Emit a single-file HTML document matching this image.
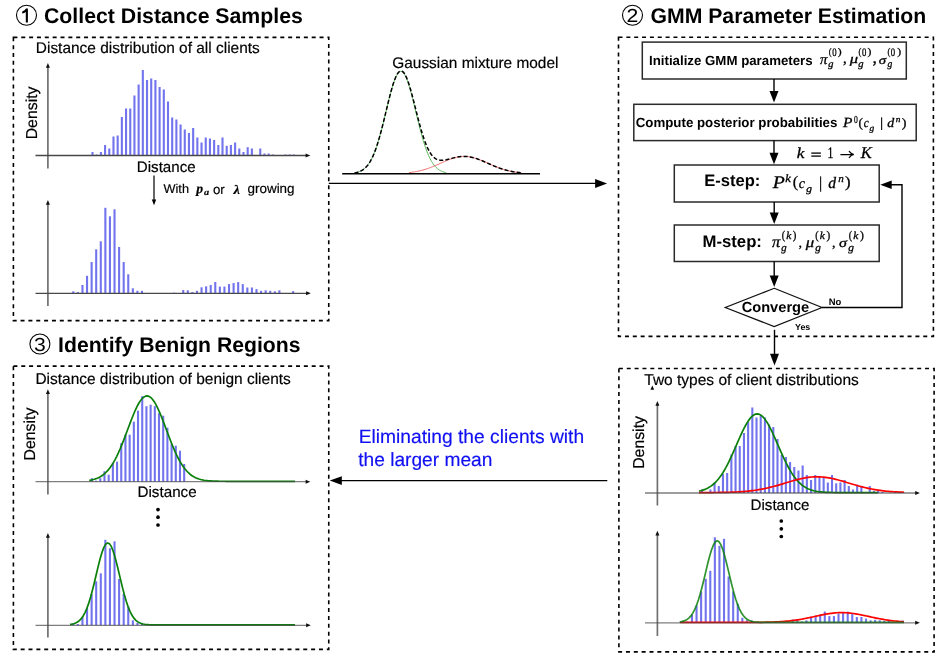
<!DOCTYPE html>
<html><head><meta charset="utf-8"><title>GMM pipeline</title>
<style>html,body{margin:0;padding:0;background:#fff;width:942px;height:660px;overflow:hidden}svg{display:block;filter:blur(0.3px)}</style>
</head><body>
<svg width="942" height="660" viewBox="0 0 942 660" text-rendering="geometricPrecision">
<rect width="942" height="660" fill="#fff"/>
<circle cx="26.5" cy="15.3" r="10" fill="none" stroke="#000" stroke-width="1.1"/>
<path transform="translate(0.00,0.10)" d="M22.2,11.3 Q25,10.4 26.0,8.3 L27.9,8.3 L27.9,22.4 L25.8,22.4 L25.8,11.9 Q24.4,13 22.2,13.4 Z" fill="#000"/>
<text x="44.00" y="23.00" font-family="Liberation Sans" font-size="21.272" font-weight="bold" font-style="normal" fill="#000" text-anchor="start" >Collect Distance Samples</text>
<circle cx="632.5" cy="15.3" r="10" fill="none" stroke="#000" stroke-width="1.1"/>
<text transform="translate(632.50,22.20) scale(1.12,1)" font-family="Liberation Sans" font-size="18.9" text-anchor="middle" fill="#000">2</text>
<text x="650.50" y="22.90" font-family="Liberation Sans" font-size="21.21" font-weight="bold" font-style="normal" fill="#000" text-anchor="start" >GMM Parameter Estimation</text>
<circle cx="39.9" cy="344" r="10" fill="none" stroke="#000" stroke-width="1.1"/>
<text transform="translate(39.90,350.90) scale(1.12,1)" font-family="Liberation Sans" font-size="18.9" text-anchor="middle" fill="#000">3</text>
<text x="58.10" y="351.80" font-family="Liberation Sans" font-size="21.18" font-weight="bold" font-style="normal" fill="#000" text-anchor="start" >Identify Benign Regions</text>
<rect x="13.4" y="37.4" width="315.35" height="283.20" fill="none" stroke="#000" stroke-width="1.6" stroke-dasharray="4 3.85"/>
<rect x="618.5" y="37.3" width="314.90" height="299.10" fill="none" stroke="#000" stroke-width="1.6" stroke-dasharray="4 3.85"/>
<rect x="13.4" y="366.1" width="315.35" height="283.30" fill="none" stroke="#000" stroke-width="1.6" stroke-dasharray="4 3.85"/>
<rect x="618.9" y="368.5" width="315.20" height="283.40" fill="none" stroke="#000" stroke-width="1.6" stroke-dasharray="4 3.85"/>
<text x="35.80" y="52.90" font-family="Liberation Sans" font-size="15.441" font-weight="normal" font-style="normal" fill="#000" text-anchor="start" stroke="#000" stroke-width="0.18" >Distance distribution of all clients</text>
<rect x="91.45" y="152.00" width="2.1" height="3.50" fill="#7274ee"/>
<rect x="95.64" y="154.50" width="2.1" height="1.00" fill="#7274ee"/>
<rect x="99.84" y="152.00" width="2.1" height="3.50" fill="#7274ee"/>
<rect x="104.03" y="145.00" width="2.1" height="10.50" fill="#7274ee"/>
<rect x="108.23" y="148.50" width="2.1" height="7.00" fill="#7274ee"/>
<rect x="112.42" y="136.50" width="2.1" height="19.00" fill="#7274ee"/>
<rect x="116.61" y="135.50" width="2.1" height="20.00" fill="#7274ee"/>
<rect x="120.81" y="117.00" width="2.1" height="38.50" fill="#7274ee"/>
<rect x="125.00" y="108.50" width="2.1" height="47.00" fill="#7274ee"/>
<rect x="129.20" y="108.50" width="2.1" height="47.00" fill="#7274ee"/>
<rect x="133.39" y="95.50" width="2.1" height="60.00" fill="#7274ee"/>
<rect x="137.58" y="84.50" width="2.1" height="71.00" fill="#7274ee"/>
<rect x="141.78" y="70.00" width="2.1" height="85.50" fill="#7274ee"/>
<rect x="145.97" y="80.00" width="2.1" height="75.50" fill="#7274ee"/>
<rect x="150.17" y="78.50" width="2.1" height="77.00" fill="#7274ee"/>
<rect x="154.36" y="80.00" width="2.1" height="75.50" fill="#7274ee"/>
<rect x="158.55" y="87.00" width="2.1" height="68.50" fill="#7274ee"/>
<rect x="162.75" y="89.50" width="2.1" height="66.00" fill="#7274ee"/>
<rect x="166.94" y="101.50" width="2.1" height="54.00" fill="#7274ee"/>
<rect x="171.14" y="117.50" width="2.1" height="38.00" fill="#7274ee"/>
<rect x="175.33" y="119.50" width="2.1" height="36.00" fill="#7274ee"/>
<rect x="179.52" y="124.50" width="2.1" height="31.00" fill="#7274ee"/>
<rect x="183.72" y="129.50" width="2.1" height="26.00" fill="#7274ee"/>
<rect x="187.91" y="133.00" width="2.1" height="22.50" fill="#7274ee"/>
<rect x="192.11" y="128.00" width="2.1" height="27.50" fill="#7274ee"/>
<rect x="196.30" y="137.50" width="2.1" height="18.00" fill="#7274ee"/>
<rect x="200.49" y="142.50" width="2.1" height="13.00" fill="#7274ee"/>
<rect x="204.69" y="137.50" width="2.1" height="18.00" fill="#7274ee"/>
<rect x="208.88" y="138.50" width="2.1" height="17.00" fill="#7274ee"/>
<rect x="213.08" y="140.00" width="2.1" height="15.50" fill="#7274ee"/>
<rect x="217.27" y="145.00" width="2.1" height="10.50" fill="#7274ee"/>
<rect x="221.46" y="137.50" width="2.1" height="18.00" fill="#7274ee"/>
<rect x="225.66" y="145.80" width="2.1" height="9.70" fill="#7274ee"/>
<rect x="229.85" y="145.00" width="2.1" height="10.50" fill="#7274ee"/>
<rect x="234.05" y="142.50" width="2.1" height="13.00" fill="#7274ee"/>
<rect x="238.24" y="148.50" width="2.1" height="7.00" fill="#7274ee"/>
<rect x="242.43" y="152.00" width="2.1" height="3.50" fill="#7274ee"/>
<rect x="246.63" y="147.20" width="2.1" height="8.30" fill="#7274ee"/>
<rect x="250.82" y="148.50" width="2.1" height="7.00" fill="#7274ee"/>
<rect x="259.21" y="148.50" width="2.1" height="7.00" fill="#7274ee"/>
<rect x="263.40" y="153.50" width="2.1" height="2.00" fill="#7274ee"/>
<rect x="267.60" y="153.50" width="2.1" height="2.00" fill="#7274ee"/>
<rect x="271.79" y="154.50" width="2.1" height="1.00" fill="#7274ee"/>
<rect x="284.37" y="154.50" width="2.1" height="1.00" fill="#7274ee"/>
<rect x="288.57" y="154.50" width="2.1" height="1.00" fill="#7274ee"/>
<rect x="292.76" y="154.50" width="2.1" height="1.00" fill="#7274ee"/>
<line x1="47.90" y1="66.10" x2="47.90" y2="168.50" stroke="#707070" stroke-width="1.7" />
<polygon points="47.90,63.10 45.90,67.80 49.90,67.80" fill="#111"/>
<line x1="35.50" y1="155.50" x2="307.30" y2="155.50" stroke="#474747" stroke-width="1.3" stroke-opacity="1.0"/>
<polygon points="310.30,155.50 305.60,153.50 305.60,157.50" fill="#111"/>
<text x="36.90" y="112.90" font-family="Liberation Sans" font-size="15.85" font-weight="normal" font-style="normal" fill="#000" text-anchor="middle" stroke="#000" stroke-width="0.18" transform="rotate(-90 36.9 112.9)">Density</text>
<text x="136.80" y="172.40" font-family="Liberation Sans" font-size="15.137" font-weight="normal" font-style="normal" fill="#000" text-anchor="start" stroke="#000" stroke-width="0.18" >Distance</text>
<line x1="154.00" y1="175.50" x2="154.00" y2="200.50" stroke="#000" stroke-width="1.2" />
<polygon points="154.00,205.30 151.80,199.50 156.20,199.50" fill="#000"/>
<text x="163.50" y="193.20" font-family="Liberation Sans" font-size="12.75" font-weight="normal" font-style="normal" fill="#000" text-anchor="start" stroke="#000" stroke-width="0.18" >With</text>
<text x="212.90" y="193.50" font-family="Liberation Sans" font-size="13.273" font-weight="normal" font-style="normal" fill="#000" text-anchor="start" stroke="#000" stroke-width="0.18" >or</text>
<text x="247.50" y="193.30" font-family="Liberation Sans" font-size="13.449" font-weight="normal" font-style="normal" fill="#000" text-anchor="start" stroke="#000" stroke-width="0.18" >growing</text>
<rect x="72.25" y="291.30" width="2.1" height="2.00" fill="#7274ee"/>
<rect x="76.83" y="292.00" width="2.1" height="1.30" fill="#7274ee"/>
<rect x="81.41" y="285.00" width="2.1" height="8.30" fill="#7274ee"/>
<rect x="85.99" y="275.80" width="2.1" height="17.50" fill="#7274ee"/>
<rect x="90.57" y="262.00" width="2.1" height="31.30" fill="#7274ee"/>
<rect x="95.15" y="249.30" width="2.1" height="44.00" fill="#7274ee"/>
<rect x="99.73" y="241.30" width="2.1" height="52.00" fill="#7274ee"/>
<rect x="104.31" y="207.80" width="2.1" height="85.50" fill="#7274ee"/>
<rect x="108.89" y="216.30" width="2.1" height="77.00" fill="#7274ee"/>
<rect x="113.47" y="209.30" width="2.1" height="84.00" fill="#7274ee"/>
<rect x="118.05" y="247.00" width="2.1" height="46.30" fill="#7274ee"/>
<rect x="122.63" y="262.00" width="2.1" height="31.30" fill="#7274ee"/>
<rect x="127.21" y="274.30" width="2.1" height="19.00" fill="#7274ee"/>
<rect x="131.79" y="288.30" width="2.1" height="5.00" fill="#7274ee"/>
<rect x="136.37" y="290.80" width="2.1" height="2.50" fill="#7274ee"/>
<rect x="140.95" y="290.80" width="2.1" height="2.50" fill="#7274ee"/>
<rect x="173.01" y="292.70" width="2.1" height="0.60" fill="#7274ee"/>
<rect x="182.17" y="290.00" width="2.1" height="3.30" fill="#7274ee"/>
<rect x="186.75" y="290.30" width="2.1" height="3.00" fill="#7274ee"/>
<rect x="191.33" y="292.00" width="2.1" height="1.30" fill="#7274ee"/>
<rect x="195.91" y="290.80" width="2.1" height="2.50" fill="#7274ee"/>
<rect x="200.49" y="287.30" width="2.1" height="6.00" fill="#7274ee"/>
<rect x="205.07" y="286.30" width="2.1" height="7.00" fill="#7274ee"/>
<rect x="209.65" y="285.00" width="2.1" height="8.30" fill="#7274ee"/>
<rect x="214.23" y="282.00" width="2.1" height="11.30" fill="#7274ee"/>
<rect x="218.81" y="286.60" width="2.1" height="6.70" fill="#7274ee"/>
<rect x="223.39" y="286.60" width="2.1" height="6.70" fill="#7274ee"/>
<rect x="227.97" y="284.10" width="2.1" height="9.20" fill="#7274ee"/>
<rect x="232.55" y="283.00" width="2.1" height="10.30" fill="#7274ee"/>
<rect x="237.13" y="282.10" width="2.1" height="11.20" fill="#7274ee"/>
<rect x="241.71" y="284.10" width="2.1" height="9.20" fill="#7274ee"/>
<rect x="246.29" y="287.50" width="2.1" height="5.80" fill="#7274ee"/>
<rect x="250.87" y="287.50" width="2.1" height="5.80" fill="#7274ee"/>
<rect x="255.45" y="289.10" width="2.1" height="4.20" fill="#7274ee"/>
<rect x="260.03" y="290.80" width="2.1" height="2.50" fill="#7274ee"/>
<rect x="264.61" y="290.30" width="2.1" height="3.00" fill="#7274ee"/>
<rect x="269.19" y="290.80" width="2.1" height="2.50" fill="#7274ee"/>
<rect x="273.77" y="291.30" width="2.1" height="2.00" fill="#7274ee"/>
<rect x="278.35" y="290.30" width="2.1" height="3.00" fill="#7274ee"/>
<rect x="292.09" y="291.10" width="2.1" height="2.20" fill="#7274ee"/>
<line x1="47.90" y1="203.00" x2="47.90" y2="306.00" stroke="#707070" stroke-width="1.7" />
<polygon points="47.90,200.00 45.90,204.70 49.90,204.70" fill="#111"/>
<line x1="35.50" y1="293.30" x2="307.80" y2="293.30" stroke="#474747" stroke-width="1.3" stroke-opacity="1.0"/>
<polygon points="310.80,293.30 306.10,291.30 306.10,295.30" fill="#111"/>
<text x="35.40" y="384.00" font-family="Liberation Sans" font-size="15.482" font-weight="normal" font-style="normal" fill="#000" text-anchor="start" stroke="#000" stroke-width="0.18" >Distance distribution of benign clients</text>
<rect x="90.85" y="478.20" width="2.1" height="3.50" fill="#7274ee"/>
<rect x="95.04" y="480.70" width="2.1" height="1.00" fill="#7274ee"/>
<rect x="99.24" y="478.20" width="2.1" height="3.50" fill="#7274ee"/>
<rect x="103.43" y="471.20" width="2.1" height="10.50" fill="#7274ee"/>
<rect x="107.63" y="474.70" width="2.1" height="7.00" fill="#7274ee"/>
<rect x="111.82" y="462.70" width="2.1" height="19.00" fill="#7274ee"/>
<rect x="116.01" y="461.70" width="2.1" height="20.00" fill="#7274ee"/>
<rect x="120.21" y="443.20" width="2.1" height="38.50" fill="#7274ee"/>
<rect x="124.40" y="434.70" width="2.1" height="47.00" fill="#7274ee"/>
<rect x="128.60" y="434.70" width="2.1" height="47.00" fill="#7274ee"/>
<rect x="132.79" y="421.70" width="2.1" height="60.00" fill="#7274ee"/>
<rect x="136.98" y="410.70" width="2.1" height="71.00" fill="#7274ee"/>
<rect x="141.18" y="396.20" width="2.1" height="85.50" fill="#7274ee"/>
<rect x="145.37" y="406.20" width="2.1" height="75.50" fill="#7274ee"/>
<rect x="149.57" y="404.70" width="2.1" height="77.00" fill="#7274ee"/>
<rect x="153.76" y="406.20" width="2.1" height="75.50" fill="#7274ee"/>
<rect x="157.95" y="413.20" width="2.1" height="68.50" fill="#7274ee"/>
<rect x="162.15" y="415.70" width="2.1" height="66.00" fill="#7274ee"/>
<rect x="166.34" y="427.70" width="2.1" height="54.00" fill="#7274ee"/>
<rect x="170.54" y="443.70" width="2.1" height="38.00" fill="#7274ee"/>
<rect x="174.73" y="445.70" width="2.1" height="36.00" fill="#7274ee"/>
<rect x="178.92" y="450.70" width="2.1" height="31.00" fill="#7274ee"/>
<rect x="183.12" y="464.00" width="2.1" height="17.70" fill="#7274ee"/>
<path d="M89.20,480.34 L90.92,480.05 L92.63,479.69 L94.34,479.23 L96.06,478.68 L97.78,478.00 L99.49,477.17 L101.20,476.18 L102.92,475.01 L104.64,473.62 L106.35,472.01 L108.06,470.14 L109.78,468.00 L111.50,465.58 L113.21,462.86 L114.93,459.84 L116.64,456.52 L118.36,452.91 L120.07,449.04 L121.78,444.92 L123.50,440.61 L125.22,436.14 L126.93,431.57 L128.65,426.97 L130.36,422.41 L132.07,417.97 L133.79,413.73 L135.50,409.78 L137.22,406.19 L138.94,403.04 L140.65,400.40 L142.37,398.33 L144.08,396.87 L145.80,396.07 L147.51,395.93 L149.22,396.47 L150.94,397.66 L152.66,399.49 L154.37,401.90 L156.09,404.86 L157.80,408.28 L159.52,412.09 L161.23,416.23 L162.94,420.59 L164.66,425.11 L166.38,429.70 L168.09,434.29 L169.81,438.81 L171.52,443.20 L173.24,447.40 L174.95,451.37 L176.67,455.09 L178.38,458.53 L180.10,461.67 L181.81,464.51 L183.53,467.05 L185.24,469.31 L186.96,471.28 L188.67,473.00 L190.38,474.47 L192.10,475.73 L193.81,476.79 L195.53,477.68 L197.25,478.42 L198.96,479.02 L200.68,479.51 L202.39,479.91 L204.11,480.23 L205.82,480.48 L207.54,480.68 L209.25,480.83 L210.97,480.95 L212.68,481.04 L214.40,481.11 L216.11,481.16 L217.82,481.20 L219.54,481.23 L221.25,481.25 L222.97,481.26 L224.69,481.27 L226.40,481.28 L228.12,481.29 L229.83,481.29 L231.55,481.29 L233.26,481.30 L234.98,481.30 L236.69,481.30 L238.41,481.30 L240.12,481.30 L241.84,481.30 L243.55,481.30 L245.26,481.30 L246.98,481.30 L248.69,481.30 L250.41,481.30 L252.12,481.30 L253.84,481.30 L255.56,481.30 L257.27,481.30 L258.99,481.30 L260.70,481.30 L262.42,481.30 L264.13,481.30 L265.85,481.30 L267.56,481.30 L269.27,481.30 L270.99,481.30 L272.71,481.30 L274.42,481.30 L276.13,481.30 L277.85,481.30 L279.57,481.30 L281.28,481.30 L283.00,481.30 L284.71,481.30 L286.43,481.30 L288.14,481.30 L289.86,481.30 L291.57,481.30 L293.29,481.30 L295.00,481.30" fill="none" stroke="#0a800a" stroke-width="1.7"/>
<line x1="47.90" y1="392.20" x2="47.90" y2="494.50" stroke="#707070" stroke-width="1.7" />
<polygon points="47.90,389.20 45.90,393.90 49.90,393.90" fill="#111"/>
<line x1="35.50" y1="481.70" x2="307.30" y2="481.70" stroke="#474747" stroke-width="1.3" stroke-opacity="0.7"/>
<polygon points="310.30,481.70 305.60,479.70 305.60,483.70" fill="#111"/>
<text x="35.10" y="434.10" font-family="Liberation Sans" font-size="15.85" font-weight="normal" font-style="normal" fill="#000" text-anchor="middle" stroke="#000" stroke-width="0.18" transform="rotate(-90 35.1 434.1)">Density</text>
<text x="137.50" y="497.40" font-family="Liberation Sans" font-size="15.215" font-weight="normal" font-style="normal" fill="#000" text-anchor="start" stroke="#000" stroke-width="0.18" >Distance</text>
<circle cx="158" cy="509.6" r="1.85" fill="#000"/>
<circle cx="158" cy="517.2" r="1.85" fill="#000"/>
<circle cx="158" cy="525" r="1.85" fill="#000"/>
<rect x="72.25" y="623.30" width="2.1" height="2.00" fill="#7274ee"/>
<rect x="76.83" y="624.00" width="2.1" height="1.30" fill="#7274ee"/>
<rect x="81.41" y="617.00" width="2.1" height="8.30" fill="#7274ee"/>
<rect x="85.99" y="607.80" width="2.1" height="17.50" fill="#7274ee"/>
<rect x="90.57" y="594.00" width="2.1" height="31.30" fill="#7274ee"/>
<rect x="95.15" y="581.30" width="2.1" height="44.00" fill="#7274ee"/>
<rect x="99.73" y="573.30" width="2.1" height="52.00" fill="#7274ee"/>
<rect x="104.31" y="539.80" width="2.1" height="85.50" fill="#7274ee"/>
<rect x="108.89" y="548.30" width="2.1" height="77.00" fill="#7274ee"/>
<rect x="113.47" y="541.30" width="2.1" height="84.00" fill="#7274ee"/>
<rect x="118.05" y="579.00" width="2.1" height="46.30" fill="#7274ee"/>
<rect x="122.63" y="594.00" width="2.1" height="31.30" fill="#7274ee"/>
<rect x="127.21" y="606.30" width="2.1" height="19.00" fill="#7274ee"/>
<rect x="131.79" y="620.30" width="2.1" height="5.00" fill="#7274ee"/>
<rect x="136.37" y="622.80" width="2.1" height="2.50" fill="#7274ee"/>
<rect x="140.95" y="622.80" width="2.1" height="2.50" fill="#7274ee"/>
<path d="M70.00,624.46 L71.88,624.16 L73.75,623.71 L75.62,623.03 L77.50,622.03 L79.38,620.61 L81.25,618.65 L83.12,616.03 L85.00,612.62 L86.88,608.33 L88.75,603.12 L90.62,596.98 L92.50,590.03 L94.38,582.45 L96.25,574.53 L98.12,566.65 L100.00,559.24 L101.88,552.77 L103.75,547.67 L105.62,544.30 L107.50,542.93 L109.38,543.64 L111.25,546.39 L113.12,550.97 L115.00,557.05 L116.88,564.20 L118.75,571.98 L120.62,579.93 L122.50,587.66 L124.38,594.84 L126.25,601.25 L128.12,606.77 L130.00,611.35 L131.88,615.03 L133.75,617.89 L135.62,620.05 L137.50,621.63 L139.38,622.75 L141.25,623.52 L143.12,624.04 L145.00,624.38 L146.88,624.59 L148.75,624.72 L150.62,624.80 L152.50,624.84 L154.38,624.87 L156.25,624.88 L158.12,624.89 L160.00,624.90 L161.88,624.90 L163.75,624.90 L165.62,624.90 L167.50,624.90 L169.38,624.90 L171.25,624.90 L173.12,624.90 L175.00,624.90 L176.88,624.90 L178.75,624.90 L180.62,624.90 L182.50,624.90 L184.38,624.90 L186.25,624.90 L188.12,624.90 L190.00,624.90 L191.88,624.90 L193.75,624.90 L195.62,624.90 L197.50,624.90 L199.38,624.90 L201.25,624.90 L203.12,624.90 L205.00,624.90 L206.88,624.90 L208.75,624.90 L210.62,624.90 L212.50,624.90 L214.38,624.90 L216.25,624.90 L218.12,624.90 L220.00,624.90 L221.88,624.90 L223.75,624.90 L225.62,624.90 L227.50,624.90 L229.38,624.90 L231.25,624.90 L233.12,624.90 L235.00,624.90 L236.88,624.90 L238.75,624.90 L240.62,624.90 L242.50,624.90 L244.38,624.90 L246.25,624.90 L248.12,624.90 L250.00,624.90 L251.88,624.90 L253.75,624.90 L255.62,624.90 L257.50,624.90 L259.38,624.90 L261.25,624.90 L263.12,624.90 L265.00,624.90 L266.88,624.90 L268.75,624.90 L270.62,624.90 L272.50,624.90 L274.38,624.90 L276.25,624.90 L278.12,624.90 L280.00,624.90 L281.88,624.90 L283.75,624.90 L285.62,624.90 L287.50,624.90 L289.38,624.90 L291.25,624.90 L293.12,624.90 L295.00,624.90" fill="none" stroke="#0a800a" stroke-width="1.7"/>
<line x1="47.90" y1="536.00" x2="47.90" y2="637.50" stroke="#707070" stroke-width="1.7" />
<polygon points="47.90,533.00 45.90,537.70 49.90,537.70" fill="#111"/>
<line x1="35.50" y1="625.30" x2="307.80" y2="625.30" stroke="#474747" stroke-width="1.3" stroke-opacity="0.7"/>
<polygon points="310.80,625.30 306.10,623.30 306.10,627.30" fill="#111"/>
<text x="644.30" y="384.50" font-family="Liberation Sans" font-size="15.513" font-weight="normal" font-style="normal" fill="#000" text-anchor="start" stroke="#000" stroke-width="0.18" >Two types of client distributions</text>
<polygon points="652.30,385.50 650.50,389.80 654.10,389.80" fill="#000"/>
<rect x="700.95" y="489.50" width="2.1" height="3.50" fill="#7274ee"/>
<rect x="705.14" y="492.00" width="2.1" height="1.00" fill="#7274ee"/>
<rect x="709.34" y="489.50" width="2.1" height="3.50" fill="#7274ee"/>
<rect x="713.53" y="482.50" width="2.1" height="10.50" fill="#7274ee"/>
<rect x="717.73" y="486.00" width="2.1" height="7.00" fill="#7274ee"/>
<rect x="721.92" y="474.00" width="2.1" height="19.00" fill="#7274ee"/>
<rect x="726.11" y="473.00" width="2.1" height="20.00" fill="#7274ee"/>
<rect x="730.31" y="454.50" width="2.1" height="38.50" fill="#7274ee"/>
<rect x="734.50" y="446.00" width="2.1" height="47.00" fill="#7274ee"/>
<rect x="738.70" y="446.00" width="2.1" height="47.00" fill="#7274ee"/>
<rect x="742.89" y="433.00" width="2.1" height="60.00" fill="#7274ee"/>
<rect x="747.08" y="422.00" width="2.1" height="71.00" fill="#7274ee"/>
<rect x="751.28" y="407.50" width="2.1" height="85.50" fill="#7274ee"/>
<rect x="755.47" y="417.50" width="2.1" height="75.50" fill="#7274ee"/>
<rect x="759.67" y="416.00" width="2.1" height="77.00" fill="#7274ee"/>
<rect x="763.86" y="417.50" width="2.1" height="75.50" fill="#7274ee"/>
<rect x="768.05" y="424.50" width="2.1" height="68.50" fill="#7274ee"/>
<rect x="772.25" y="427.00" width="2.1" height="66.00" fill="#7274ee"/>
<rect x="776.44" y="439.00" width="2.1" height="54.00" fill="#7274ee"/>
<rect x="780.64" y="455.00" width="2.1" height="38.00" fill="#7274ee"/>
<rect x="784.83" y="457.00" width="2.1" height="36.00" fill="#7274ee"/>
<rect x="789.02" y="462.00" width="2.1" height="31.00" fill="#7274ee"/>
<rect x="793.22" y="467.00" width="2.1" height="26.00" fill="#7274ee"/>
<rect x="797.41" y="470.50" width="2.1" height="22.50" fill="#7274ee"/>
<rect x="801.61" y="465.50" width="2.1" height="27.50" fill="#7274ee"/>
<rect x="805.80" y="475.00" width="2.1" height="18.00" fill="#7274ee"/>
<rect x="809.99" y="480.00" width="2.1" height="13.00" fill="#7274ee"/>
<rect x="814.19" y="475.00" width="2.1" height="18.00" fill="#7274ee"/>
<rect x="818.38" y="476.00" width="2.1" height="17.00" fill="#7274ee"/>
<rect x="822.58" y="477.50" width="2.1" height="15.50" fill="#7274ee"/>
<rect x="826.77" y="482.50" width="2.1" height="10.50" fill="#7274ee"/>
<rect x="830.96" y="475.00" width="2.1" height="18.00" fill="#7274ee"/>
<rect x="835.16" y="483.30" width="2.1" height="9.70" fill="#7274ee"/>
<rect x="839.35" y="482.50" width="2.1" height="10.50" fill="#7274ee"/>
<rect x="843.55" y="480.00" width="2.1" height="13.00" fill="#7274ee"/>
<rect x="847.74" y="486.00" width="2.1" height="7.00" fill="#7274ee"/>
<rect x="851.93" y="489.50" width="2.1" height="3.50" fill="#7274ee"/>
<rect x="856.13" y="484.70" width="2.1" height="8.30" fill="#7274ee"/>
<rect x="860.32" y="486.00" width="2.1" height="7.00" fill="#7274ee"/>
<rect x="868.71" y="486.00" width="2.1" height="7.00" fill="#7274ee"/>
<rect x="872.90" y="491.00" width="2.1" height="2.00" fill="#7274ee"/>
<rect x="877.10" y="491.00" width="2.1" height="2.00" fill="#7274ee"/>
<rect x="881.29" y="492.00" width="2.1" height="1.00" fill="#7274ee"/>
<rect x="893.87" y="492.00" width="2.1" height="1.00" fill="#7274ee"/>
<rect x="898.07" y="492.00" width="2.1" height="1.00" fill="#7274ee"/>
<rect x="902.26" y="492.00" width="2.1" height="1.00" fill="#7274ee"/>
<path d="M699.00,491.09 L700.49,490.75 L701.98,490.36 L703.48,489.89 L704.97,489.34 L706.46,488.70 L707.95,487.96 L709.44,487.10 L710.93,486.13 L712.42,485.01 L713.92,483.76 L715.41,482.35 L716.90,480.77 L718.39,479.03 L719.88,477.10 L721.38,475.00 L722.87,472.71 L724.36,470.24 L725.85,467.60 L727.34,464.79 L728.83,461.83 L730.33,458.72 L731.82,455.49 L733.31,452.17 L734.80,448.78 L736.29,445.35 L737.78,441.91 L739.27,438.51 L740.77,435.17 L742.26,431.95 L743.75,428.88 L745.24,426.00 L746.73,423.34 L748.23,420.96 L749.72,418.88 L751.21,417.13 L752.70,415.74 L754.19,414.73 L755.68,414.11 L757.17,413.90 L758.67,414.10 L760.16,414.70 L761.65,415.70 L763.14,417.08 L764.63,418.81 L766.12,420.89 L767.62,423.26 L769.11,425.90 L770.60,428.78 L772.09,431.84 L773.58,435.06 L775.08,438.39 L776.57,441.80 L778.06,445.23 L779.55,448.66 L781.04,452.06 L782.53,455.38 L784.02,458.61 L785.52,461.72 L787.01,464.69 L788.50,467.51 L789.99,470.16 L791.48,472.63 L792.98,474.92 L794.47,477.03 L795.96,478.96 L797.45,480.72 L798.94,482.30 L800.43,483.71 L801.92,484.97 L803.42,486.09 L804.91,487.07 L806.40,487.93 L807.89,488.68 L809.38,489.32 L810.88,489.87 L812.37,490.34 L813.86,490.74 L815.35,491.08 L816.84,491.36 L818.33,491.60 L819.83,491.79 L821.32,491.95 L822.81,492.08 L824.30,492.19 L825.79,492.28 L827.28,492.34 L828.77,492.40 L830.27,492.44 L831.76,492.48 L833.25,492.51 L834.74,492.53 L836.23,492.55 L837.73,492.56 L839.22,492.57 L840.71,492.58 L842.20,492.58 L843.69,492.59 L845.18,492.59 L846.67,492.59 L848.17,492.59 L849.66,492.60 L851.15,492.60 L852.64,492.60 L854.13,492.60 L855.62,492.60 L857.12,492.60 L858.61,492.60 L860.10,492.60 L861.59,492.60 L863.08,492.60 L864.58,492.60 L866.07,492.60 L867.56,492.60 L869.05,492.60 L870.54,492.60 L872.03,492.60 L873.52,492.60 L875.02,492.60 L876.51,492.60 L878.00,492.60" fill="none" stroke="#0a800a" stroke-width="1.7"/>
<path d="M699.00,492.59 L700.71,492.58 L702.42,492.58 L704.12,492.57 L705.83,492.57 L707.54,492.56 L709.25,492.55 L710.96,492.54 L712.67,492.53 L714.38,492.52 L716.08,492.50 L717.79,492.49 L719.50,492.46 L721.21,492.44 L722.92,492.41 L724.62,492.38 L726.33,492.34 L728.04,492.30 L729.75,492.25 L731.46,492.20 L733.17,492.13 L734.88,492.06 L736.58,491.98 L738.29,491.89 L740.00,491.79 L741.71,491.68 L743.42,491.55 L745.12,491.41 L746.83,491.26 L748.54,491.09 L750.25,490.90 L751.96,490.70 L753.67,490.48 L755.38,490.24 L757.08,489.98 L758.79,489.70 L760.50,489.41 L762.21,489.09 L763.92,488.75 L765.62,488.39 L767.33,488.01 L769.04,487.61 L770.75,487.19 L772.46,486.75 L774.17,486.30 L775.88,485.83 L777.58,485.34 L779.29,484.85 L781.00,484.34 L782.71,483.83 L784.42,483.31 L786.12,482.80 L787.83,482.28 L789.54,481.77 L791.25,481.26 L792.96,480.77 L794.67,480.29 L796.38,479.83 L798.08,479.39 L799.79,478.98 L801.50,478.59 L803.21,478.24 L804.92,477.91 L806.62,477.63 L808.33,477.38 L810.04,477.18 L811.75,477.02 L813.46,476.90 L815.17,476.83 L816.88,476.80 L818.58,476.82 L820.29,476.89 L822.00,477.00 L823.71,477.15 L825.42,477.35 L827.12,477.59 L828.83,477.87 L830.54,478.19 L832.25,478.54 L833.96,478.92 L835.67,479.33 L837.38,479.77 L839.08,480.22 L840.79,480.70 L842.50,481.19 L844.21,481.69 L845.92,482.21 L847.62,482.72 L849.33,483.24 L851.04,483.76 L852.75,484.27 L854.46,484.77 L856.17,485.27 L857.88,485.76 L859.58,486.23 L861.29,486.68 L863.00,487.12 L864.71,487.55 L866.42,487.95 L868.12,488.33 L869.83,488.69 L871.54,489.04 L873.25,489.36 L874.96,489.66 L876.67,489.94 L878.38,490.20 L880.08,490.45 L881.79,490.67 L883.50,490.87 L885.21,491.06 L886.92,491.23 L888.62,491.39 L890.33,491.53 L892.04,491.66 L893.75,491.77 L895.46,491.88 L897.17,491.97 L898.88,492.05 L900.58,492.12 L902.29,492.19 L904.00,492.24" fill="none" stroke="#f00" stroke-width="1.7"/>
<line x1="657.40" y1="404.10" x2="657.40" y2="505.50" stroke="#707070" stroke-width="1.7" />
<polygon points="657.40,401.10 655.40,405.80 659.40,405.80" fill="#111"/>
<line x1="645.00" y1="493.00" x2="916.90" y2="493.00" stroke="#474747" stroke-width="1.3" stroke-opacity="0.7"/>
<polygon points="919.90,493.00 915.20,491.00 915.20,495.00" fill="#111"/>
<text x="644.00" y="442.45" font-family="Liberation Sans" font-size="15.85" font-weight="normal" font-style="normal" fill="#000" text-anchor="middle" stroke="#000" stroke-width="0.18" transform="rotate(-90 644.0 442.45)">Density</text>
<text x="750.50" y="510.00" font-family="Liberation Sans" font-size="15.163" font-weight="normal" font-style="normal" fill="#000" text-anchor="start" stroke="#000" stroke-width="0.18" >Distance</text>
<circle cx="781.3" cy="521" r="1.85" fill="#000"/>
<circle cx="781.3" cy="528.8" r="1.85" fill="#000"/>
<circle cx="781.3" cy="536.5" r="1.85" fill="#000"/>
<rect x="681.75" y="620.80" width="2.1" height="2.00" fill="#7274ee"/>
<rect x="686.33" y="621.50" width="2.1" height="1.30" fill="#7274ee"/>
<rect x="690.91" y="614.50" width="2.1" height="8.30" fill="#7274ee"/>
<rect x="695.49" y="605.30" width="2.1" height="17.50" fill="#7274ee"/>
<rect x="700.07" y="591.50" width="2.1" height="31.30" fill="#7274ee"/>
<rect x="704.65" y="578.80" width="2.1" height="44.00" fill="#7274ee"/>
<rect x="709.23" y="570.80" width="2.1" height="52.00" fill="#7274ee"/>
<rect x="713.81" y="537.30" width="2.1" height="85.50" fill="#7274ee"/>
<rect x="718.39" y="545.80" width="2.1" height="77.00" fill="#7274ee"/>
<rect x="722.97" y="538.80" width="2.1" height="84.00" fill="#7274ee"/>
<rect x="727.55" y="576.50" width="2.1" height="46.30" fill="#7274ee"/>
<rect x="732.13" y="591.50" width="2.1" height="31.30" fill="#7274ee"/>
<rect x="736.71" y="603.80" width="2.1" height="19.00" fill="#7274ee"/>
<rect x="741.29" y="617.80" width="2.1" height="5.00" fill="#7274ee"/>
<rect x="745.87" y="620.30" width="2.1" height="2.50" fill="#7274ee"/>
<rect x="750.45" y="620.30" width="2.1" height="2.50" fill="#7274ee"/>
<rect x="782.51" y="622.20" width="2.1" height="0.60" fill="#7274ee"/>
<rect x="791.67" y="619.50" width="2.1" height="3.30" fill="#7274ee"/>
<rect x="796.25" y="619.80" width="2.1" height="3.00" fill="#7274ee"/>
<rect x="800.83" y="621.50" width="2.1" height="1.30" fill="#7274ee"/>
<rect x="805.41" y="620.30" width="2.1" height="2.50" fill="#7274ee"/>
<rect x="809.99" y="616.80" width="2.1" height="6.00" fill="#7274ee"/>
<rect x="814.57" y="615.80" width="2.1" height="7.00" fill="#7274ee"/>
<rect x="819.15" y="614.50" width="2.1" height="8.30" fill="#7274ee"/>
<rect x="823.73" y="611.50" width="2.1" height="11.30" fill="#7274ee"/>
<rect x="828.31" y="616.10" width="2.1" height="6.70" fill="#7274ee"/>
<rect x="832.89" y="616.10" width="2.1" height="6.70" fill="#7274ee"/>
<rect x="837.47" y="613.60" width="2.1" height="9.20" fill="#7274ee"/>
<rect x="842.05" y="612.50" width="2.1" height="10.30" fill="#7274ee"/>
<rect x="846.63" y="611.60" width="2.1" height="11.20" fill="#7274ee"/>
<rect x="851.21" y="613.60" width="2.1" height="9.20" fill="#7274ee"/>
<rect x="855.79" y="617.00" width="2.1" height="5.80" fill="#7274ee"/>
<rect x="860.37" y="617.00" width="2.1" height="5.80" fill="#7274ee"/>
<rect x="864.95" y="618.60" width="2.1" height="4.20" fill="#7274ee"/>
<rect x="869.53" y="620.30" width="2.1" height="2.50" fill="#7274ee"/>
<rect x="874.11" y="619.80" width="2.1" height="3.00" fill="#7274ee"/>
<rect x="878.69" y="620.30" width="2.1" height="2.50" fill="#7274ee"/>
<rect x="883.27" y="620.80" width="2.1" height="2.00" fill="#7274ee"/>
<rect x="887.85" y="619.80" width="2.1" height="3.00" fill="#7274ee"/>
<rect x="901.59" y="620.60" width="2.1" height="2.20" fill="#7274ee"/>
<path d="M680.00,622.40 L681.87,622.40 L683.73,622.40 L685.60,622.40 L687.47,622.40 L689.33,622.40 L691.20,622.40 L693.07,622.40 L694.93,622.40 L696.80,622.40 L698.67,622.40 L700.53,622.40 L702.40,622.40 L704.27,622.40 L706.13,622.40 L708.00,622.40 L709.87,622.40 L711.73,622.40 L713.60,622.40 L715.47,622.40 L717.33,622.40 L719.20,622.40 L721.07,622.40 L722.93,622.40 L724.80,622.40 L726.67,622.40 L728.53,622.40 L730.40,622.40 L732.27,622.40 L734.13,622.40 L736.00,622.40 L737.87,622.39 L739.73,622.39 L741.60,622.39 L743.47,622.39 L745.33,622.38 L747.20,622.38 L749.07,622.37 L750.93,622.37 L752.80,622.36 L754.67,622.35 L756.53,622.33 L758.40,622.32 L760.27,622.30 L762.13,622.28 L764.00,622.25 L765.87,622.22 L767.73,622.18 L769.60,622.13 L771.47,622.08 L773.33,622.01 L775.20,621.94 L777.07,621.85 L778.93,621.76 L780.80,621.64 L782.67,621.52 L784.53,621.38 L786.40,621.22 L788.27,621.04 L790.13,620.84 L792.00,620.62 L793.87,620.38 L795.73,620.12 L797.60,619.84 L799.47,619.54 L801.33,619.22 L803.20,618.88 L805.07,618.52 L806.93,618.15 L808.80,617.76 L810.67,617.36 L812.53,616.96 L814.40,616.54 L816.27,616.13 L818.13,615.72 L820.00,615.32 L821.87,614.93 L823.73,614.56 L825.60,614.21 L827.47,613.88 L829.33,613.58 L831.20,613.32 L833.07,613.09 L834.93,612.91 L836.80,612.76 L838.67,612.66 L840.53,612.61 L842.40,612.60 L844.27,612.64 L846.13,612.73 L848.00,612.87 L849.87,613.04 L851.73,613.26 L853.60,613.51 L855.47,613.80 L857.33,614.12 L859.20,614.47 L861.07,614.84 L862.93,615.22 L864.80,615.62 L866.67,616.03 L868.53,616.44 L870.40,616.85 L872.27,617.26 L874.13,617.66 L876.00,618.05 L877.87,618.43 L879.73,618.79 L881.60,619.14 L883.47,619.46 L885.33,619.77 L887.20,620.06 L889.07,620.32 L890.93,620.56 L892.80,620.79 L894.67,620.99 L896.53,621.17 L898.40,621.34 L900.27,621.48 L902.13,621.61 L904.00,621.73" fill="none" stroke="#f00" stroke-width="1.7"/>
<path d="M679.70,621.92 L681.57,621.61 L683.44,621.13 L685.31,620.41 L687.18,619.37 L689.05,617.89 L690.92,615.86 L692.78,613.15 L694.65,609.66 L696.52,605.28 L698.39,599.99 L700.26,593.79 L702.13,586.80 L704.00,579.22 L705.87,571.35 L707.74,563.56 L709.61,556.30 L711.48,550.00 L713.35,545.11 L715.21,541.97 L717.08,540.80 L718.95,541.71 L720.82,544.62 L722.69,549.31 L724.56,555.45 L726.43,562.62 L728.30,570.36 L730.17,578.25 L732.04,585.88 L733.91,592.96 L735.77,599.26 L737.64,604.67 L739.51,609.16 L741.38,612.76 L743.25,615.56 L745.12,617.67 L746.99,619.21 L748.86,620.30 L750.73,621.06 L752.60,621.56 L754.47,621.89 L756.34,622.10 L758.21,622.22 L760.07,622.30 L761.94,622.35 L763.81,622.37 L765.68,622.38 L767.55,622.39 L769.42,622.40 L771.29,622.40 L773.16,622.40 L775.03,622.40 L776.90,622.40 L778.77,622.40 L780.63,622.40 L782.50,622.40 L784.37,622.40 L786.24,622.40 L788.11,622.40 L789.98,622.40 L791.85,622.40 L793.72,622.40 L795.59,622.40 L797.46,622.40 L799.33,622.40 L801.20,622.40 L803.07,622.40 L804.93,622.40 L806.80,622.40 L808.67,622.40 L810.54,622.40 L812.41,622.40 L814.28,622.40 L816.15,622.40 L818.02,622.40 L819.89,622.40 L821.76,622.40 L823.63,622.40 L825.50,622.40 L827.36,622.40 L829.23,622.40 L831.10,622.40 L832.97,622.40 L834.84,622.40 L836.71,622.40 L838.58,622.40 L840.45,622.40 L842.32,622.40 L844.19,622.40 L846.06,622.40 L847.92,622.40 L849.79,622.40 L851.66,622.40 L853.53,622.40 L855.40,622.40 L857.27,622.40 L859.14,622.40 L861.01,622.40 L862.88,622.40 L864.75,622.40 L866.62,622.40 L868.49,622.40 L870.36,622.40 L872.22,622.40 L874.09,622.40 L875.96,622.40 L877.83,622.40 L879.70,622.40 L881.57,622.40 L883.44,622.40 L885.31,622.40 L887.18,622.40 L889.05,622.40 L890.92,622.40 L892.78,622.40 L894.65,622.40 L896.52,622.40 L898.39,622.40 L900.26,622.40 L902.13,622.40 L904.00,622.40" fill="none" stroke="#0a800a" stroke-width="1.7" stroke-opacity="0.85"/>
<line x1="657.40" y1="533.80" x2="657.40" y2="636.00" stroke="#707070" stroke-width="1.7" />
<polygon points="657.40,530.80 655.40,535.50 659.40,535.50" fill="#111"/>
<line x1="645.00" y1="622.80" x2="916.90" y2="622.80" stroke="#474747" stroke-width="1.3" stroke-opacity="0.7"/>
<polygon points="919.90,622.80 915.20,620.80 915.20,624.80" fill="#111"/>
<text x="392.30" y="68.00" font-family="Liberation Sans" font-size="15.424" font-weight="normal" font-style="normal" fill="#000" text-anchor="start" stroke="#000" stroke-width="0.18" >Gaussian mixture model</text>
<path d="M354.50,172.90 L355.26,172.76 L356.03,172.60 L356.79,172.42 L357.56,172.21 L358.32,171.98 L359.08,171.71 L359.85,171.40 L360.61,171.06 L361.38,170.67 L362.14,170.23 L362.91,169.74 L363.67,169.19 L364.43,168.58 L365.20,167.90 L365.96,167.15 L366.73,166.33 L367.49,165.42 L368.25,164.42 L369.02,163.33 L369.78,162.14 L370.55,160.85 L371.31,159.46 L372.08,157.95 L372.84,156.33 L373.60,154.60 L374.37,152.74 L375.13,150.77 L375.90,148.67 L376.66,146.46 L377.43,144.13 L378.19,141.68 L378.95,139.12 L379.72,136.46 L380.48,133.70 L381.25,130.84 L382.01,127.90 L382.77,124.89 L383.54,121.81 L384.30,118.69 L385.07,115.53 L385.83,112.36 L386.60,109.18 L387.36,106.01 L388.12,102.87 L388.89,99.78 L389.65,96.77 L390.42,93.83 L391.18,91.01 L391.94,88.31 L392.71,85.75 L393.47,83.35 L394.24,81.13 L395.00,79.11 L395.76,77.30 L396.53,75.71 L397.29,74.35 L398.06,73.24 L398.82,72.39 L399.59,71.80 L400.35,71.47 L401.11,71.41 L401.88,71.62 L402.64,72.10 L403.41,72.84 L404.17,73.84 L404.94,75.08 L405.70,76.57 L406.46,78.29 L407.23,80.22 L407.99,82.35 L408.76,84.67 L409.52,87.16 L410.28,89.80 L411.05,92.58 L411.81,95.46 L412.58,98.45 L413.34,101.51 L414.11,104.62 L414.87,107.78 L415.63,110.96 L416.40,114.14 L417.16,117.31 L417.93,120.45 L418.69,123.54 L419.45,126.59 L420.22,129.56 L420.98,132.45 L421.75,135.26 L422.51,137.97 L423.27,140.57 L424.04,143.07 L424.80,145.45 L425.57,147.72 L426.33,149.86 L427.10,151.89 L427.86,153.80 L428.62,155.58 L429.39,157.25 L430.15,158.81 L430.92,160.25 L431.68,161.59 L432.44,162.82 L433.21,163.95 L433.97,164.99 L434.74,165.94 L435.50,166.80 L436.27,167.58 L437.03,168.29 L437.79,168.93 L438.56,169.50 L439.32,170.02 L440.09,170.48 L440.85,170.89 L441.62,171.25 L442.38,171.58 L443.14,171.86 L443.91,172.11 L444.67,172.33 L445.44,172.53 L446.20,172.69" fill="none" stroke="#5cb85c" stroke-width="1"/>
<path d="M409.00,172.60 L409.94,172.50 L410.87,172.38 L411.81,172.26 L412.75,172.13 L413.68,171.98 L414.62,171.83 L415.56,171.67 L416.49,171.50 L417.43,171.31 L418.37,171.12 L419.30,170.91 L420.24,170.69 L421.18,170.46 L422.11,170.22 L423.05,169.97 L423.99,169.70 L424.92,169.42 L425.86,169.13 L426.80,168.83 L427.73,168.51 L428.67,168.18 L429.61,167.85 L430.54,167.50 L431.48,167.14 L432.42,166.77 L433.35,166.39 L434.29,166.00 L435.23,165.61 L436.16,165.21 L437.10,164.80 L438.04,164.39 L438.97,163.98 L439.91,163.56 L440.85,163.14 L441.78,162.72 L442.72,162.31 L443.66,161.89 L444.59,161.49 L445.53,161.08 L446.47,160.69 L447.40,160.30 L448.34,159.92 L449.28,159.56 L450.21,159.21 L451.15,158.87 L452.09,158.55 L453.02,158.25 L453.96,157.97 L454.90,157.70 L455.83,157.46 L456.77,157.24 L457.71,157.05 L458.64,156.88 L459.58,156.73 L460.52,156.61 L461.45,156.52 L462.39,156.45 L463.33,156.41 L464.26,156.40 L465.20,156.42 L466.14,156.46 L467.07,156.53 L468.01,156.63 L468.95,156.75 L469.88,156.90 L470.82,157.07 L471.76,157.27 L472.69,157.49 L473.63,157.74 L474.57,158.00 L475.50,158.29 L476.44,158.59 L477.38,158.92 L478.31,159.25 L479.25,159.61 L480.19,159.97 L481.12,160.35 L482.06,160.74 L483.00,161.14 L483.93,161.54 L484.87,161.95 L485.81,162.36 L486.74,162.78 L487.68,163.20 L488.62,163.62 L489.55,164.03 L490.49,164.45 L491.43,164.86 L492.36,165.26 L493.30,165.66 L494.24,166.06 L495.17,166.44 L496.11,166.82 L497.05,167.19 L497.98,167.54 L498.92,167.89 L499.86,168.23 L500.79,168.55 L501.73,168.87 L502.67,169.17 L503.60,169.46 L504.54,169.74 L505.48,170.00 L506.41,170.25 L507.35,170.49 L508.29,170.72 L509.22,170.94 L510.16,171.14 L511.10,171.34 L512.03,171.52 L512.97,171.69 L513.91,171.85 L514.84,172.00 L515.78,172.14 L516.72,172.28 L517.65,172.40 L518.59,172.51 L519.53,172.62 L520.46,172.72 L521.40,172.81" fill="none" stroke="#f26a6a" stroke-width="1"/>
<path d="M354.50,172.90 L355.54,172.70 L356.59,172.47 L357.63,172.19 L358.67,171.86 L359.72,171.46 L360.76,170.98 L361.80,170.43 L362.85,169.78 L363.89,169.02 L364.93,168.15 L365.97,167.14 L367.02,165.99 L368.06,164.68 L369.10,163.20 L370.15,161.54 L371.19,159.68 L372.23,157.62 L373.28,155.35 L374.32,152.85 L375.36,150.14 L376.41,147.20 L377.45,144.04 L378.49,140.66 L379.53,137.08 L380.58,133.31 L381.62,129.37 L382.66,125.28 L383.71,121.08 L384.75,116.79 L385.79,112.44 L386.84,108.09 L387.88,103.78 L388.92,99.54 L389.97,95.43 L391.01,91.49 L392.05,87.78 L393.10,84.34 L394.14,81.21 L395.18,78.43 L396.23,76.05 L397.27,74.09 L398.31,72.59 L399.35,71.56 L400.40,71.02 L401.44,70.98 L402.48,71.43 L403.53,72.36 L404.57,73.76 L405.61,75.62 L406.66,77.89 L407.70,80.55 L408.74,83.56 L409.79,86.88 L410.83,90.46 L411.87,94.24 L412.91,98.20 L413.96,102.26 L415.00,106.40 L416.04,110.55 L417.09,114.68 L418.13,118.75 L419.17,122.72 L420.22,126.55 L421.26,130.22 L422.30,133.71 L423.35,136.99 L424.39,140.05 L425.43,142.89 L426.48,145.48 L427.52,147.84 L428.56,149.96 L429.61,151.85 L430.65,153.52 L431.69,154.96 L432.73,156.20 L433.78,157.25 L434.82,158.12 L435.86,158.82 L436.91,159.37 L437.95,159.78 L438.99,160.07 L440.04,160.25 L441.08,160.34 L442.12,160.35 L443.17,160.28 L444.21,160.16 L445.25,159.98 L446.29,159.77 L447.34,159.53 L448.38,159.27 L449.42,158.99 L450.47,158.71 L451.51,158.43 L452.55,158.15 L453.60,157.88 L454.64,157.62 L455.68,157.38 L456.73,157.16 L457.77,156.97 L458.81,156.80 L459.86,156.65 L460.90,156.54 L461.94,156.46 L462.99,156.41 L464.03,156.39 L465.07,156.40 L466.11,156.45 L467.16,156.53 L468.20,156.65 L469.24,156.79 L470.29,156.97 L471.33,157.18 L472.37,157.41 L473.42,157.68 L474.46,157.97 L475.50,158.29 L476.55,158.63 L477.59,158.99 L478.63,159.37 L479.67,159.77 L480.72,160.19 L481.76,160.61 L482.80,161.05 L483.85,161.50 L484.89,161.96 L485.93,162.42 L486.98,162.88 L488.02,163.35 L489.06,163.81 L490.11,164.28 L491.15,164.74 L492.19,165.19 L493.24,165.64 L494.28,166.07 L495.32,166.50 L496.37,166.92 L497.41,167.33 L498.45,167.72 L499.49,168.10 L500.54,168.47 L501.58,168.82 L502.62,169.16 L503.67,169.48 L504.71,169.78 L505.75,170.08 L506.80,170.35 L507.84,170.62 L508.88,170.86 L509.93,171.09 L510.97,171.31 L512.01,171.52 L513.05,171.71 L514.10,171.88 L515.14,172.05 L516.18,172.20 L517.23,172.34 L518.27,172.47 L519.31,172.59 L520.36,172.70 L521.40,172.81" fill="none" stroke="#000" stroke-width="1.5" stroke-dasharray="4 2.2"/>
<line x1="342.20" y1="173.70" x2="540.00" y2="173.70" stroke="#000" stroke-width="1.6" />
<line x1="328.75" y1="183.40" x2="596.00" y2="183.40" stroke="#000" stroke-width="1.3" />
<polygon points="607.10,183.40 595.10,178.90 595.10,187.90" fill="#000"/>
<line x1="341.00" y1="480.60" x2="607.30" y2="480.60" stroke="#000" stroke-width="1.3" />
<polygon points="329.80,480.60 341.80,476.20 341.80,485.00" fill="#000"/>
<text x="358.70" y="443.30" font-family="Liberation Sans" font-size="19.227" font-weight="normal" font-style="normal" fill="#1010f2" text-anchor="start" stroke="#1010f2" stroke-width="0.18" >Eliminating the clients with</text>
<text x="358.20" y="465.80" font-family="Liberation Sans" font-size="19.175" font-weight="normal" font-style="normal" fill="#1010f2" text-anchor="start" stroke="#1010f2" stroke-width="0.18" >the larger mean</text>
<rect x="642.3" y="42.1" width="264.00" height="36.90" fill="#fff" stroke="#2a2a2a" stroke-width="1.5"/>
<text x="649.00" y="64.60" font-family="Liberation Sans" font-size="13.285" font-weight="bold" font-style="normal" fill="#000" text-anchor="start" >Initialize GMM parameters</text>
<line x1="774.00" y1="79.00" x2="774.00" y2="92.50" stroke="#000" stroke-width="1.4" />
<polygon points="774.00,102.50 769.50,91.00 778.50,91.00" fill="#000"/>
<rect x="633.8" y="104.3" width="282.40" height="36.30" fill="#fff" stroke="#2a2a2a" stroke-width="1.5"/>
<text x="635.70" y="126.70" font-family="Liberation Sans" font-size="13.304" font-weight="bold" font-style="normal" fill="#000" text-anchor="start" >Compute posterior probabilities</text>
<line x1="774.00" y1="140.60" x2="774.00" y2="154.20" stroke="#000" stroke-width="1.4" />
<polygon points="774.00,164.20 769.50,152.70 778.50,152.70" fill="#000"/>
<rect x="674.3" y="165" width="204.90" height="37.00" fill="#fff" stroke="#2a2a2a" stroke-width="1.5"/>
<text x="704.20" y="186.20" font-family="Liberation Sans" font-size="16.554" font-weight="bold" font-style="normal" fill="#000" text-anchor="start" >E-step:</text>
<line x1="774.20" y1="202.00" x2="774.20" y2="214.00" stroke="#000" stroke-width="1.4" />
<polygon points="774.20,224.00 769.70,212.50 778.70,212.50" fill="#000"/>
<rect x="674.3" y="225" width="204.90" height="36.50" fill="#fff" stroke="#2a2a2a" stroke-width="1.5"/>
<text x="702.50" y="246.70" font-family="Liberation Sans" font-size="16.737" font-weight="bold" font-style="normal" fill="#000" text-anchor="start" >M-step:</text>
<line x1="774.20" y1="261.50" x2="774.20" y2="277.00" stroke="#000" stroke-width="1.4" />
<polygon points="774.20,287.00 769.70,275.50 778.70,275.50" fill="#000"/>
<polygon points="774.2,288.3 822,307.5 774.2,326.6 725.3,307.5" fill="#fff" stroke="#111" stroke-width="1.2"/>
<text x="741.70" y="311.70" font-family="Liberation Sans" font-size="14.636" font-weight="bold" font-style="normal" fill="#000" text-anchor="start" >Converge</text>
<text x="828.70" y="305.00" font-family="Liberation Sans" font-size="9.452" font-weight="bold" font-style="normal" fill="#000" text-anchor="start" >No</text>
<text x="795.00" y="330.00" font-family="Liberation Sans" font-size="8.875" font-weight="bold" font-style="normal" fill="#000" text-anchor="start" >Yes</text>
<polyline points="822,307.5 902,307.5 902,184.7 891,184.7" fill="none" stroke="#000" stroke-width="1.4"/>
<polygon points="880.30,184.70 891.70,180.50 891.70,188.90" fill="#000"/>
<line x1="774.50" y1="329.80" x2="774.50" y2="354.00" stroke="#000" stroke-width="1.4" />
<polygon points="774.50,365.40 770.00,353.70 779.00,353.70" fill="#000"/>
<text transform="translate(820.02,63.65) scale(1.000,1)" font-family="Liberation Serif" font-size="14.85" font-style="italic" font-weight="normal" stroke="#000" stroke-width="0.3">π</text>
<text transform="translate(828.82,55.46) scale(0.854,1)" font-family="Liberation Serif" font-size="10.04" font-style="normal" font-weight="normal" stroke="#000" stroke-width="0.3">(</text>
<text transform="translate(832.17,56.34) scale(0.760,1)" font-family="Liberation Serif" font-size="11.48" font-style="normal" font-weight="normal" stroke="#000" stroke-width="0.3">0</text>
<text transform="translate(837.82,55.46) scale(1.164,1)" font-family="Liberation Serif" font-size="10.04" font-style="normal" font-weight="normal" stroke="#000" stroke-width="0.3">)</text>
<text transform="translate(828.19,66.98) scale(1.048,1)" font-family="Liberation Serif" font-size="9.95" font-style="italic" font-weight="normal" stroke="#000" stroke-width="0.3">g</text>
<text transform="translate(842.94,63.03) scale(1.000,1)" font-family="Liberation Serif" font-size="14.77" font-style="normal" font-weight="normal" stroke="#000" stroke-width="0.3">,</text>
<text transform="translate(849.72,63.40) scale(1.270,1)" font-family="Liberation Serif" font-size="13.08" font-style="italic" font-weight="normal" stroke="#000" stroke-width="0.3">μ</text>
<text transform="translate(858.62,55.44) scale(0.844,1)" font-family="Liberation Serif" font-size="10.15" font-style="normal" font-weight="normal" stroke="#000" stroke-width="0.3">(</text>
<text transform="translate(861.97,56.34) scale(0.760,1)" font-family="Liberation Serif" font-size="11.48" font-style="normal" font-weight="normal" stroke="#000" stroke-width="0.3">0</text>
<text transform="translate(867.52,55.44) scale(1.151,1)" font-family="Liberation Serif" font-size="10.15" font-style="normal" font-weight="normal" stroke="#000" stroke-width="0.3">)</text>
<text transform="translate(858.19,66.95) scale(1.053,1)" font-family="Liberation Serif" font-size="10.09" font-style="italic" font-weight="normal" stroke="#000" stroke-width="0.3">g</text>
<text transform="translate(872.44,62.61) scale(1.000,1)" font-family="Liberation Serif" font-size="17.46" font-style="normal" font-weight="normal" stroke="#000" stroke-width="0.3">,</text>
<text transform="translate(878.76,63.58) scale(1.230,1)" font-family="Liberation Serif" font-size="11.99" font-style="italic" font-weight="normal" stroke="#000" stroke-width="0.3">σ</text>
<text transform="translate(887.52,55.44) scale(0.844,1)" font-family="Liberation Serif" font-size="10.15" font-style="normal" font-weight="normal" stroke="#000" stroke-width="0.3">(</text>
<text transform="translate(890.87,56.34) scale(0.760,1)" font-family="Liberation Serif" font-size="11.48" font-style="normal" font-weight="normal" stroke="#000" stroke-width="0.3">0</text>
<text transform="translate(897.22,55.44) scale(1.151,1)" font-family="Liberation Serif" font-size="10.15" font-style="normal" font-weight="normal" stroke="#000" stroke-width="0.3">)</text>
<text transform="translate(887.40,66.95) scale(0.948,1)" font-family="Liberation Serif" font-size="10.09" font-style="italic" font-weight="normal" stroke="#000" stroke-width="0.3">g</text>
<text transform="translate(842.88,127.40) scale(1.096,1)" font-family="Liberation Serif" font-size="14.05" font-style="italic" font-weight="normal" stroke="#000" stroke-width="0.3">P</text>
<text transform="translate(854.01,122.50) scale(0.708,1)" font-family="Liberation Serif" font-size="10.67" font-style="normal" font-weight="normal" stroke="#000" stroke-width="0.3">0</text>
<text transform="translate(858.62,127.23) scale(1.017,1)" font-family="Liberation Serif" font-size="13.01" font-style="normal" font-weight="normal" stroke="#000" stroke-width="0.3">(</text>
<text transform="translate(863.66,127.47) scale(0.854,1)" font-family="Liberation Serif" font-size="13.10" font-style="italic" font-weight="normal" stroke="#000" stroke-width="0.3">c</text>
<text transform="translate(869.50,130.60) scale(1.049,1)" font-family="Liberation Serif" font-size="8.92" font-style="italic" font-weight="normal" stroke="#000" stroke-width="0.3">g</text>
<text transform="translate(879.99,127.46) scale(1.178,1)" font-family="Liberation Serif" font-size="13.63" font-style="normal" font-weight="normal" stroke="#000" stroke-width="0.3">|</text>
<text transform="translate(887.18,127.47) scale(1.070,1)" font-family="Liberation Serif" font-size="13.07" font-style="italic" font-weight="normal" stroke="#000" stroke-width="0.3">d</text>
<text transform="translate(895.86,122.40) scale(1.114,1)" font-family="Liberation Serif" font-size="8.49" font-style="italic" font-weight="normal" stroke="#000" stroke-width="0.3">n</text>
<text transform="translate(901.65,127.15) scale(1.086,1)" font-family="Liberation Serif" font-size="12.90" font-style="normal" font-weight="normal" stroke="#000" stroke-width="0.3">)</text>
<text transform="translate(796.70,158.40) scale(1.138,1)" font-family="Liberation Serif" font-size="15.13" font-style="italic" font-weight="normal" stroke="#000" stroke-width="0.3">k</text>
<line x1="811.30" y1="153.10" x2="820.90" y2="153.10" stroke="#000" stroke-width="1.3" />
<line x1="811.30" y1="156.10" x2="820.90" y2="156.10" stroke="#000" stroke-width="1.3" />
<text transform="translate(827.38,158.40) scale(0.732,1)" font-family="Liberation Serif" font-size="15.91" font-style="normal" font-weight="normal" stroke="#000" stroke-width="0.3">1</text>
<path d="M840.4,154.5 L853.4,154.5 M849,151.2 Q850.8,153.8 853.8,154.5 Q850.8,155.2 849,157.8" fill="none" stroke="#000" stroke-width="1.25"/>
<text transform="translate(860.79,158.40) scale(1.000,1)" font-family="Liberation Serif" font-size="16.49" font-style="italic" font-weight="normal" stroke="#000" stroke-width="0.3">K</text>
<text transform="translate(772.86,188.00) scale(1.123,1)" font-family="Liberation Serif" font-size="17.56" font-style="italic" font-weight="normal" stroke="#000" stroke-width="0.3">P</text>
<text transform="translate(785.34,181.70) scale(1.118,1)" font-family="Liberation Serif" font-size="11.24" font-style="italic" font-weight="normal" stroke="#000" stroke-width="0.3">k</text>
<text transform="translate(792.80,187.32) scale(1.005,1)" font-family="Liberation Serif" font-size="15.88" font-style="normal" font-weight="normal" stroke="#000" stroke-width="0.3">(</text>
<text transform="translate(798.87,187.86) scale(0.956,1)" font-family="Liberation Serif" font-size="14.55" font-style="italic" font-weight="normal" stroke="#000" stroke-width="0.3">c</text>
<text transform="translate(806.19,192.25) scale(1.138,1)" font-family="Liberation Serif" font-size="10.09" font-style="italic" font-weight="normal" stroke="#000" stroke-width="0.3">g</text>
<text transform="translate(819.09,187.74) scale(0.974,1)" font-family="Liberation Serif" font-size="16.49" font-style="normal" font-weight="normal" stroke="#000" stroke-width="0.3">|</text>
<text transform="translate(828.13,188.04) scale(0.985,1)" font-family="Liberation Serif" font-size="15.91" font-style="italic" font-weight="normal" stroke="#000" stroke-width="0.3">d</text>
<text transform="translate(838.20,181.50) scale(1.047,1)" font-family="Liberation Serif" font-size="10.61" font-style="italic" font-weight="normal" stroke="#000" stroke-width="0.3">n</text>
<text transform="translate(844.96,187.37) scale(1.069,1)" font-family="Liberation Serif" font-size="15.66" font-style="normal" font-weight="normal" stroke="#000" stroke-width="0.3">)</text>
<text transform="translate(772.01,247.24) scale(1.000,1)" font-family="Liberation Serif" font-size="16.58" font-style="italic" font-weight="normal" stroke="#000" stroke-width="0.3">π</text>
<text transform="translate(781.66,238.74) scale(0.842,1)" font-family="Liberation Serif" font-size="12.02" font-style="normal" font-weight="normal" stroke="#000" stroke-width="0.3">(</text>
<text transform="translate(786.27,238.70) scale(1.069,1)" font-family="Liberation Serif" font-size="10.67" font-style="italic" font-weight="normal" stroke="#000" stroke-width="0.3">k</text>
<text transform="translate(792.75,238.74) scale(0.907,1)" font-family="Liberation Serif" font-size="12.02" font-style="normal" font-weight="normal" stroke="#000" stroke-width="0.3">)</text>
<text transform="translate(781.29,251.33) scale(1.016,1)" font-family="Liberation Serif" font-size="10.68" font-style="italic" font-weight="normal" stroke="#000" stroke-width="0.3">g</text>
<text transform="translate(798.56,247.43) scale(1.000,1)" font-family="Liberation Serif" font-size="14.10" font-style="normal" font-weight="normal" stroke="#000" stroke-width="0.3">,</text>
<text transform="translate(805.82,247.09) scale(1.155,1)" font-family="Liberation Serif" font-size="14.56" font-style="italic" font-weight="normal" stroke="#000" stroke-width="0.3">μ</text>
<text transform="translate(815.16,238.79) scale(0.858,1)" font-family="Liberation Serif" font-size="11.80" font-style="normal" font-weight="normal" stroke="#000" stroke-width="0.3">(</text>
<text transform="translate(819.77,238.70) scale(1.069,1)" font-family="Liberation Serif" font-size="10.67" font-style="italic" font-weight="normal" stroke="#000" stroke-width="0.3">k</text>
<text transform="translate(826.54,238.79) scale(0.957,1)" font-family="Liberation Serif" font-size="11.80" font-style="normal" font-weight="normal" stroke="#000" stroke-width="0.3">)</text>
<text transform="translate(815.19,250.86) scale(1.027,1)" font-family="Liberation Serif" font-size="10.97" font-style="italic" font-weight="normal" stroke="#000" stroke-width="0.3">g</text>
<text transform="translate(832.06,247.43) scale(1.000,1)" font-family="Liberation Serif" font-size="14.10" font-style="normal" font-weight="normal" stroke="#000" stroke-width="0.3">,</text>
<text transform="translate(838.92,247.27) scale(1.198,1)" font-family="Liberation Serif" font-size="13.32" font-style="italic" font-weight="normal" stroke="#000" stroke-width="0.3">σ</text>
<text transform="translate(848.66,238.79) scale(0.858,1)" font-family="Liberation Serif" font-size="11.80" font-style="normal" font-weight="normal" stroke="#000" stroke-width="0.3">(</text>
<text transform="translate(853.27,238.70) scale(1.069,1)" font-family="Liberation Serif" font-size="10.67" font-style="italic" font-weight="normal" stroke="#000" stroke-width="0.3">k</text>
<text transform="translate(860.02,238.79) scale(0.990,1)" font-family="Liberation Serif" font-size="11.80" font-style="normal" font-weight="normal" stroke="#000" stroke-width="0.3">)</text>
<text transform="translate(848.29,250.86) scale(1.047,1)" font-family="Liberation Serif" font-size="10.97" font-style="italic" font-weight="normal" stroke="#000" stroke-width="0.3">g</text>
<text transform="translate(196.18,192.54) scale(0.985,1)" font-family="Liberation Serif" font-size="13.89" font-style="italic" font-weight="bold" stroke="#000" stroke-width="0.15">p</text>
<text transform="translate(203.98,195.41) scale(1.156,1)" font-family="Liberation Serif" font-size="8.94" font-style="italic" font-weight="bold" stroke="#000" stroke-width="0.15">a</text>
<text transform="translate(233.50,194.30) scale(1.129,1)" font-family="Liberation Serif" font-size="12.92" font-style="italic" font-weight="bold" stroke="#000" stroke-width="0.15">λ</text>
</svg>
</body></html>
